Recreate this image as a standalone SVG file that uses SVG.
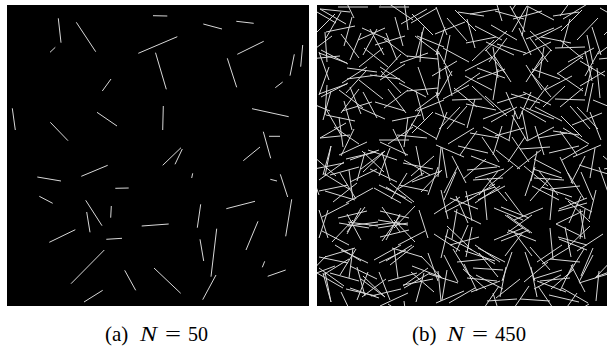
<svg xmlns="http://www.w3.org/2000/svg" xmlns:xlink="http://www.w3.org/1999/xlink" width="610" height="347" viewBox="0 0 610 347">
<style>
.rod{fill:none;stroke:#d8d8d8;stroke-width:1}
.cap{font-family:"Liberation Serif","Times New Roman",serif;font-size:21px;fill:#000}
.it{font-style:italic}
</style>
<defs>
<clipPath id="clipR"><rect x="0" y="0" width="290" height="301"/></clipPath>
<path id="rods" class="rod" d="M3 4l26 15M35 12l-8 29M62 2l30 0M95 9l21 21M120 3l-26 15M150 14l8 29M178 6l29 8M210 1l-15 26M236 11l26 -4M265 5l-21 21
M8 27l2 30M41 35l27 -12M60 24l-14 26M98 31l24 18M128 22l-9 28M149 38l30 -6M190 26l-22 20M213 33l18 24M245 21l-27 14M270 30l6 29
M2 48l28 10M33 55l11 -27M66 43l-24 19M90 51l31 3M121 46l14 25M152 57l-26 -14M176 42l5 31M206 50l28 -13M234 45l-19 23M263 56l25 15
M12 62l-10 28M30 74l30 -4M64 66l20 22M88 78l-25 -16M123 63l-3 30M148 71l27 14M188 64l-28 10M209 77l16 -25M240 68l26 18M275 61l-7 30
M4 92l27 -14M42 84l-18 24M58 97l30 9M99 86l8 29M127 95l-27 11M155 81l22 21M180 98l29 -9M214 87l-12 27M238 94l30 1M266 83l-23 19
M9 104l15 26M38 116l-29 -6M67 103l24 -18M91 112l-4 30M118 108l30 12M150 101l-20 23M174 117l26 -15M205 106l6 29M237 114l-28 -11M260 102l21 22
M3 133l30 -3M37 124l-13 27M63 137l28 13M96 122l-25 17M119 135l11 -28M153 128l29 5M185 121l-9 29M210 136l27 -14M243 126l17 24M272 139l-26 -16
M14 141l-6 30M33 155l29 -10M68 146l-22 21M86 158l30 6M125 143l5 30M147 152l-28 -12M179 145l24 19M212 157l-17 -25M232 148l30 -7M268 151l-14 27
M6 168l26 16M40 176l8 -29M60 164l-27 13M94 171l23 -20M121 162l-10 28M156 175l30 -2M181 166l-19 24M207 161l24 20M245 173l-29 -9M264 167l12 28
M2 186l29 -6M39 194l-16 -26M57 183l27 15M97 197l-24 -19M124 185l7 29M148 192l30 -10M188 181l-27 14M213 196l20 -23M236 184l-3 31M270 193l-28 11
M11 205l-9 28M31 217l30 4M65 202l18 25M92 213l-29 -7M128 207l27 -14M151 218l-12 -27M177 203l29 12M215 210l-25 18M239 219l27 -13M263 204l5 30
M5 226l27 14M44 235l-14 -26M61 223l30 -5M98 237l-21 -22M117 229l26 17M155 222l-6 30M184 236l28 -11M206 227l-18 24M241 232l29 8M273 221l-22 21
M8 252l30 -9M36 243l-4 30M69 256l26 -16M89 245l-27 13M127 250l14 27M150 242l28 17M183 257l-25 -17M208 247l10 29M233 254l30 3M267 244l-16 26
M2 263l25 18M42 276l-29 -8M62 267l11 28M95 261l29 11M125 273l-21 -22M146 264l23 20M180 276l-30 -3M214 262l6 30M244 270l-27 14M262 278l29 -9
M14 297l-8 -29M29 284l30 7M68 292l-24 -18M87 283l26 -15M124 296l-3 -30M154 287l29 -11M182 281l-17 25M203 294l30 2M243 286l13 -27M271 298l-26 -15"/>
</defs>
<rect width="610" height="347" fill="#fff"/>
<g id="panel-a">
<rect x="7" y="5" width="302" height="301" fill="#000"/>
<path class="rod" d="M58.3 18.3L61 42.7M50 52.3L55.3 47.3M76.3 22.3L95.7 51.7M153 15.7L167.3 16M138.3 53.3L177.3 36.7M155.5 52.7L166.3 89.3M102.3 91L111 79M12.3 108.3L15.3 130M97 112.3L117 126M50.3 122.3L68 140.7M203.3 24L222 29M236.3 21.3L253.7 23.3M237.3 54.3L263.7 41.3M227.3 58.3L236.7 87.3M294.3 54.3L290 75.7M302.7 45L300.7 66.7M275.3 87.7L282.7 82M163.3 106L162.7 130M252 108.7L288.7 116.7M269 136.3L280 136.3M263.3 131.7L270.7 158.3M162.7 165.3L181 147.7M175 164.3L182.3 149M243.3 160.7L260 147M37.3 177L61 181M81.3 176.3L107.7 165.3M115.3 188.3L128.7 188M39.3 196.3L52.7 203.3M85.7 200.3L102 225.7M86.7 212L90 232.3M111.3 206L110.7 217.7M141.7 226L168.7 224M49.3 242.3L75.3 229.7M106.3 239.3L122 238.3M71 283.7L104.3 250M124.7 270.3L135.7 290.3M154 268L180.7 293.3M84 302L102.7 290.3M191.7 178L192.7 173.3M270.3 179.3L277 181M280.3 174.3L287.7 197M291.7 199.3L285.7 236.3M226.3 208.7L255 201.3M200.7 204.3L197.3 227.7M258 221.3L246 250M200 239.3L203.7 261M216.7 228.7L211 276.7M264.7 261.3L262.3 267.3M267.7 276.3L285.7 270M216 275L202.7 299.7"/>
</g>
<g id="panel-b" transform="translate(317,5)">
<rect x="0" y="0" width="290" height="301" fill="#000"/>
<g clip-path="url(#clipR)">
<use xlink:href="#rods" href="#rods"/>
<use xlink:href="#rods" href="#rods" transform="translate(403,0) scale(-1,1)"/>
<use xlink:href="#rods" href="#rods" transform="translate(113,0) scale(-1,1)"/>
<use xlink:href="#rods" href="#rods" transform="translate(0,438) scale(1,-1)"/>
<use xlink:href="#rods" href="#rods" transform="translate(0,137) scale(1,-1)"/>
</g>
</g>
<g id="caption-a" class="cap">
<text x="105" y="341">(a)</text>
<text x="140" y="341" class="it" textLength="17" lengthAdjust="spacingAndGlyphs">N</text>
<text x="165" y="341" textLength="16" lengthAdjust="spacingAndGlyphs">=</text>
<text x="188" y="341" textLength="20" lengthAdjust="spacingAndGlyphs">50</text>
</g>
<g id="caption-b" class="cap">
<text x="412" y="341">(b)</text>
<text x="447" y="341" class="it" textLength="17" lengthAdjust="spacingAndGlyphs">N</text>
<text x="472" y="341" textLength="16" lengthAdjust="spacingAndGlyphs">=</text>
<text x="495" y="341" textLength="31" lengthAdjust="spacingAndGlyphs">450</text>
</g>
</svg>
